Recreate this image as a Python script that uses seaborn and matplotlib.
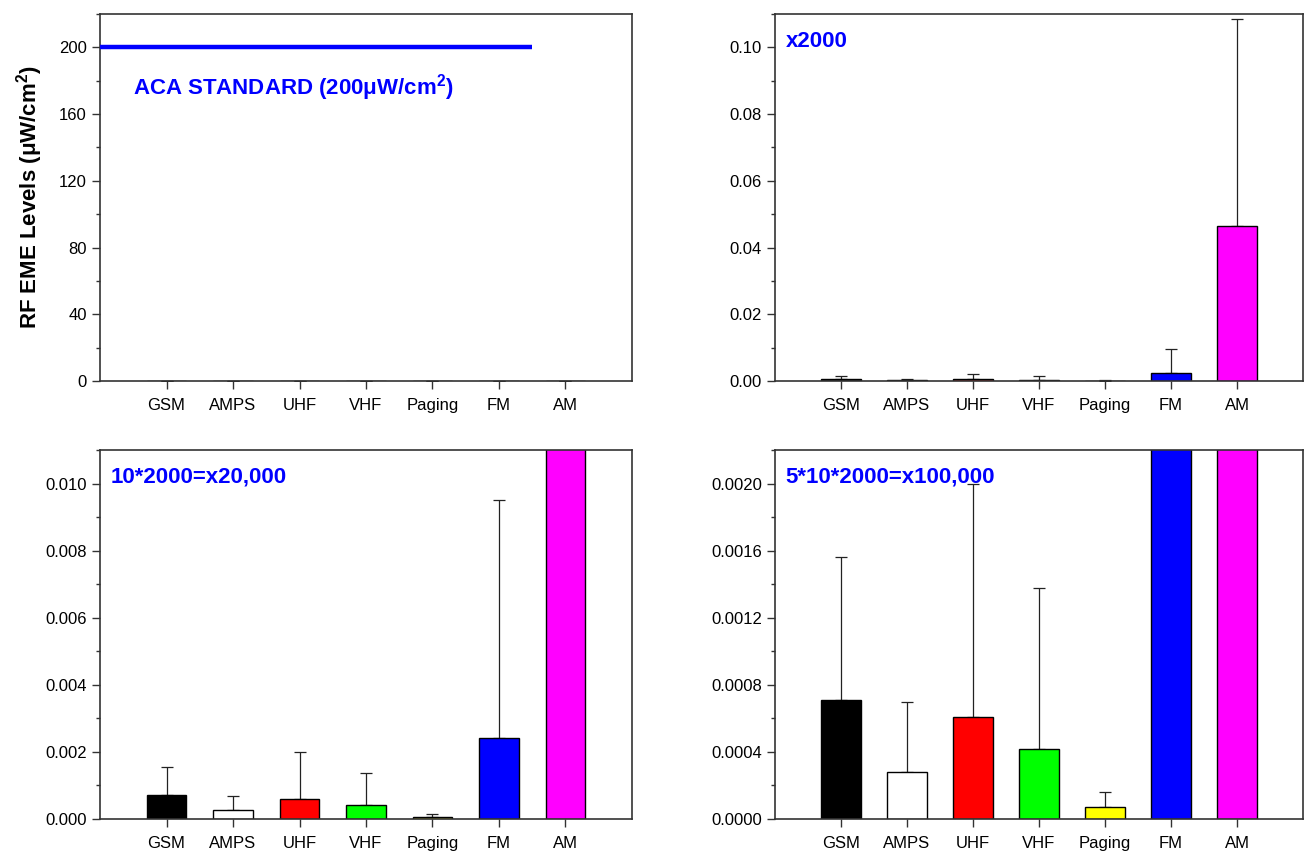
import numpy as np
import pandas as pd
import matplotlib
matplotlib.use("Agg")
import matplotlib.pyplot as plt
from matplotlib.ticker import MultipleLocator, FormatStrFormatter
import seaborn as sns

# ---- data ----
categories = ["GSM", "AMPS", "UHF", "VHF", "Paging", "FM", "AM"]
mean_levels = [0.00071, 0.00028, 0.00061, 0.00042, 0.00007, 0.0024, 0.0465]
upper_levels = [0.00156, 0.00070, 0.00200, 0.00138, 0.00016, 0.0095, 0.1085]
bar_colors = ["#000000", "#ffffff", "#ff0000", "#00ff00", "#ffff00", "#0000ff", "#ff00ff"]
aca_standard = 200
panel_notes = ["", "x2000", "10*2000=x20,000", "5*10*2000=x100,000"]
panel_ylims = [220, 0.11, 0.011, 0.0022]
panel_major = [40, 0.02, 0.002, 0.0004]
panel_fmt = ["%d", "%.2f", "%.3f", "%.4f"]

sns.set_theme(style="white")
plt.rcParams["font.family"] = ["Liberation Sans", "DejaVu Sans"]
plt.rcParams["mathtext.fontset"] = "custom"
plt.rcParams["mathtext.rm"] = "Liberation Sans"
plt.rcParams["mathtext.bf"] = "Liberation Sans:bold"

df = pd.DataFrame({"cat": categories, "val": mean_levels})
err_up = np.array(upper_levels) - np.array(mean_levels)

fig = plt.figure(figsize=(13.08, 8.51), dpi=100)
W, H = 1308, 851
boxes = [
    (100, 14, 632, 381),
    (775, 14, 1303, 381),
    (100, 450, 632, 819),
    (775, 450, 1303, 819),
]
axes = []
for (l, t, r, b) in boxes:
    axes.append(fig.add_axes([l / W, 1 - b / H, (r - l) / W, (b - t) / H]))

for i, ax in enumerate(axes):
    sns.barplot(data=df, x="cat", y="val", hue="cat", palette=bar_colors,
                legend=False, width=0.6, edgecolor="black", linewidth=1.0,
                saturation=1, ax=ax, zorder=2)
    ax.errorbar(np.arange(len(categories)), mean_levels,
                yerr=[np.zeros(len(categories)), err_up],
                fmt="none", ecolor="#222222", elinewidth=0.9, capsize=4.5,
                capthick=0.9, zorder=1)
    ax.set_xlim(-1, 7)
    ax.set_ylim(0, panel_ylims[i])
    ax.yaxis.set_major_locator(MultipleLocator(panel_major[i]))
    ax.yaxis.set_minor_locator(MultipleLocator(panel_major[i] / 2))
    ax.yaxis.set_major_formatter(FormatStrFormatter(panel_fmt[i]))
    ax.set_xlabel("")
    ax.set_ylabel("")
    ax.tick_params(axis="both", which="major", direction="out", length=6,
                   width=1, color="#333333", labelsize=12, labelcolor="black")
    ax.tick_params(axis="x", which="major", pad=6)
    ax.tick_params(axis="y", which="minor", direction="out", length=3,
                   width=1, color="#333333", left=True)
    ax.tick_params(axis="x", which="both", bottom=True, top=False)
    ax.tick_params(axis="y", which="both", left=True, right=False)
    for s in ax.spines.values():
        s.set_visible(True)
        s.set_color("#333333")
        s.set_linewidth(1.2)
    if panel_notes[i]:
        ax.text(0.02, 0.955, panel_notes[i], transform=ax.transAxes,
                color="#0000ff", fontsize=16, fontweight="bold",
                va="top", ha="left")

# top-left: ACA standard line
ax0 = axes[0]
ax0.plot([-1, 5.5], [aca_standard, aca_standard], color="#0000ff", lw=3.2,
         solid_capstyle="butt", zorder=3)
ax0.text(-0.5, 176, "ACA STANDARD (200μW/cm$^{\\mathbf{2}}$)", color="#0000ff",
         fontsize=16, fontweight="bold", va="center", ha="left")
ax0.set_ylabel("RF EME Levels (μW/cm$^{\\mathbf{2}}$)", fontsize=16,
               fontweight="bold", labelpad=10, color="black")

fig.savefig("out.png", dpi=100)
